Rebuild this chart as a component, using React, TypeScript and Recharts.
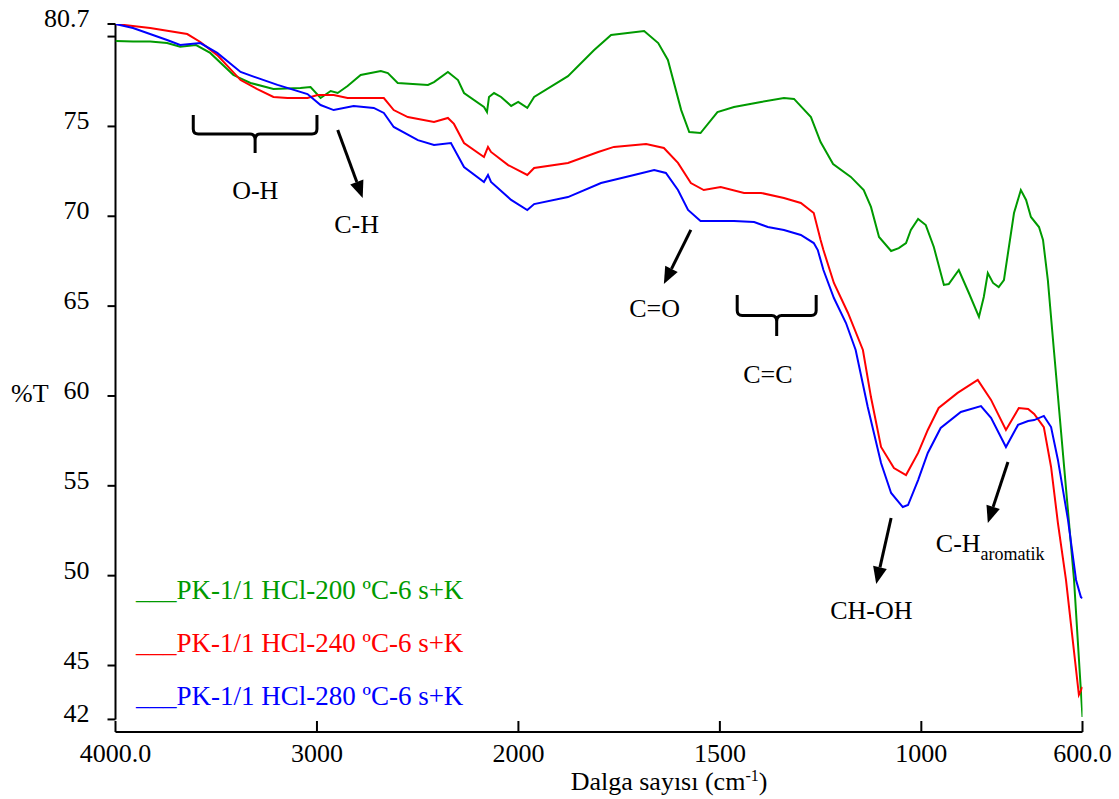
import React from 'react';
import { LineChart, Line, XAxis, YAxis, ReferenceLine, ReferenceDot, Legend } from 'recharts';

const FONT = '"Liberation Serif", "Times New Roman", serif';

// wavenumber (cm-1) and %T
const greenWn = [4000, 3913, 3828, 3744, 3679, 3600, 3530, 3415, 3330, 3216, 3082, 3032, 2982, 2932, 2897, 2848, 2783, 2683, 2648, 2599, 2449, 2419, 2350, 2300, 2270, 2171, 2156, 2146, 2121, 2086, 2036, 2001, 1978, 1961, 1877, 1812, 1770, 1688, 1653, 1629, 1596, 1576, 1548, 1506, 1465, 1398, 1341, 1316, 1274, 1250, 1219, 1175, 1143, 1125, 1105, 1075, 1056, 1038, 1026, 1008, 989, 969, 944, 932, 907, 882, 857, 845, 835, 822, 808, 795, 770, 753, 740, 728, 708, 698, 686, 671, 621, 600];
const greenT = [79.75, 79.72, 79.72, 79.64, 79.44, 79.53, 79.09, 77.86, 77.42, 77.08, 77.14, 77.19, 76.58, 76.97, 76.86, 77.25, 77.86, 78.08, 77.97, 77.42, 77.31, 77.47, 78.03, 77.58, 76.86, 76.08, 75.8, 76.64, 76.86, 76.64, 76.14, 76.36, 76.03, 76.64, 77.8, 79.25, 80.09, 80.31, 79.64, 78.7, 75.91, 74.69, 74.63, 75.8, 76.08, 76.36, 76.58, 76.53, 75.52, 74.13, 72.91, 72.19, 71.46, 70.52, 68.85, 68.07, 68.23, 68.51, 69.24, 69.85, 69.51, 68.29, 66.18, 66.23, 67.01, 65.73, 64.4, 65.51, 66.84, 66.29, 66.06, 66.45, 70.18, 71.46, 70.91, 69.96, 69.4, 68.68, 66.45, 62.56, 49.76, 42.14];

const redWn = [4000, 3828, 3644, 3579, 3495, 3379, 3296, 3216, 3146, 3047, 2997, 2917, 2848, 2668, 2619, 2549, 2419, 2350, 2320, 2270, 2171, 2151, 2136, 2051, 1978, 1961, 1877, 1802, 1763, 1683, 1639, 1604, 1572, 1540, 1498, 1440, 1398, 1341, 1299, 1267, 1250, 1243, 1217, 1182, 1145, 1125, 1100, 1068, 1038, 1008, 984, 957, 910, 860, 827, 790, 758, 735, 720, 696, 678, 661, 641, 609, 600];
const redT = [80.7, 80.48, 80.14, 79.7, 78.97, 77.58, 77.08, 76.64, 76.58, 76.58, 76.75, 76.75, 76.58, 76.58, 75.91, 75.52, 75.25, 75.47, 75.14, 74.08, 73.3, 73.86, 73.58, 72.85, 72.3, 72.69, 72.97, 73.58, 73.86, 74.02, 73.8, 72.97, 71.85, 71.46, 71.63, 71.3, 71.3, 71.02, 70.74, 70.18, 68.68, 68.12, 66.29, 64.62, 62.56, 59.94, 57.16, 55.99, 55.6, 56.83, 58.11, 59.33, 60.17, 60.89, 59.78, 58.11, 59.33, 59.28, 59.0, 58.27, 56.05, 52.93, 49.76, 43.37, 43.81];

const blueWn = [4000, 3913, 3744, 3679, 3579, 3495, 3379, 3296, 3196, 3047, 2982, 2917, 2818, 2718, 2668, 2619, 2499, 2419, 2335, 2270, 2171, 2151, 2136, 2036, 1978, 1961, 1877, 1795, 1713, 1663, 1634, 1604, 1579, 1548, 1515, 1465, 1415, 1381, 1341, 1299, 1267, 1257, 1243, 1217, 1187, 1163, 1133, 1100, 1075, 1046, 1033, 1008, 984, 952, 902, 852, 827, 790, 760, 735, 720, 696, 678, 661, 636, 616, 604, 600];
const blueT = [80.7, 80.48, 79.81, 79.53, 79.64, 79.09, 78.03, 77.7, 77.31, 76.8, 76.19, 75.91, 76.14, 76.03, 75.75, 74.97, 74.24, 73.97, 74.08, 72.74, 71.91, 72.3, 71.91, 70.91, 70.35, 70.68, 71.07, 71.85, 72.3, 72.58, 72.41, 71.46, 70.35, 69.74, 69.74, 69.74, 69.68, 69.4, 69.24, 68.96, 68.51, 68.12, 67.01, 65.45, 64.06, 62.56, 59.39, 56.27, 54.6, 53.82, 53.93, 55.32, 56.83, 58.22, 59.11, 59.44, 58.78, 57.16, 58.39, 58.61, 58.66, 58.89, 58.27, 56.44, 53.1, 49.76, 48.81, 48.75];

const seriesNames = ['PK-1/1 HCl-200 ºC-6 s+K', 'PK-1/1 HCl-240 ºC-6 s+K', 'PK-1/1 HCl-280 ºC-6 s+K'];
const seriesColors = ['#009a00', '#ff0000', '#0000ff'];

const xTickWn = [4000, 3000, 2000, 1500, 1000, 600];
const xTickLabels = ['4000.0', '3000', '2000', '1500', '1000', '600.0'];
const yTicks = [42, 45, 50, 55, 60, 65, 70, 75, 80, 80.7];
const yTickLabels = ['42', '45', '50', '55', '60', '65', '70', '75', '', '80.7'];

// band annotations: arrows [fromWn, fromT, toWn, toT]
const arrows = [
  [2897, 74.8, 2773, 71.02],
  [1572, 69.24, 1639, 66.23],
  [1075, 53.21, 1112, 49.54],
  [785, 56.33, 835, 52.93],
];
// braces [leftWn, topT, rightWn, stemT]
const braces = [
  [3614, 75.64, 3000, 73.52],
  [1457, 65.62, 1261, 63.34],
];
const bandLabels = ['O-H', 'C-H', 'C=O', 'C=C', 'CH-OH'];
const bandLabelWn = [3306, 2803, 1662, 1381, 1124];
const bandLabelT = [70.96, 69.07, 64.4, 60.72, 47.59];

// instrument scale halves above 2000 cm-1
const toPos = (wn: number) => (wn <= 2000 ? wn : 2000 + (wn - 2000) / 2);

const makeData = (wn: number[], t: number[]) => wn.map((w, i) => ({ pos: toPos(w), t: t[i] }));
const seriesData = [makeData(greenWn, greenT), makeData(redWn, redT), makeData(blueWn, blueT)];

const XTick = (props: any) => {
  const { x, y, payload } = props;
  const i = xTickWn.findIndex((w) => toPos(w) === payload.value);
  return (
    <g>
      <line x1={x} x2={x} y1={y} y2={y - 11} stroke="#000" strokeWidth={2} />
      <text x={x} y={y + 30} textAnchor="middle" fontSize={26} fontFamily={FONT} fill="#000">
        {xTickLabels[i]}
      </text>
    </g>
  );
};

const YTick = (props: any) => {
  const { x, y, payload } = props;
  const i = yTicks.indexOf(payload.value);
  return (
    <g>
      <line x1={x - 8} x2={x} y1={y} y2={y} stroke="#000" strokeWidth={2} />
      <text x={x - 26} y={y + 3} textAnchor="end" fontSize={26} fontFamily={FONT} fill="#000">
        {yTickLabels[i]}
      </text>
    </g>
  );
};

const Arrow = (p: any) => {
  const { x1, y1, x2, y2 } = p;
  const dx = x2 - x1;
  const dy = y2 - y1;
  const len = Math.hypot(dx, dy);
  const ux = dx / len;
  const uy = dy / len;
  const bx = x2 - ux * 17;
  const by = y2 - uy * 17;
  return (
    <g>
      <line x1={x1} y1={y1} x2={bx} y2={by} stroke="#000" strokeWidth={3} />
      <polygon points={`${x2},${y2} ${bx - uy * 7},${by + ux * 7} ${bx + uy * 7},${by - ux * 7}`} fill="#000" />
    </g>
  );
};

const Brace = (p: any) => {
  const { x1, y1, x2, y2 } = p;
  const l = Math.min(x1, x2);
  const r = Math.max(x1, x2);
  const c = (l + r) / 2;
  const top = Math.min(y1, y2);
  const bot = Math.max(y1, y2);
  const m = (top + bot) / 2;
  const d = `M${l},${top} L${l},${m - 5} Q${l},${m} ${l + 5},${m} L${c - 5},${m} Q${c},${m} ${c},${m + 6} L${c},${bot} M${c},${m + 6} Q${c},${m} ${c + 5},${m} L${r - 5},${m} Q${r},${m} ${r},${m - 5} L${r},${top}`;
  return <path d={d} fill="none" stroke="#000" strokeWidth={3} />;
};

const LegendBox = () => (
  <div>
    {seriesNames.map((n, i) => (
      <div
        key={n}
        style={{ color: seriesColors[i], fontSize: 27, lineHeight: '53px', fontFamily: FONT, whiteSpace: 'nowrap' }}
      >
        ___{n}
      </div>
    ))}
  </div>
);

export default function App() {
  return (
    <div style={{ position: 'absolute', left: 0, top: 0, width: 1119, height: 799, background: '#fff' }}>
      <LineChart width={1119} height={799} margin={{ top: 24, right: 36.5, bottom: 0, left: 15.5 }}>
        <XAxis
          type="number"
          dataKey="pos"
          domain={[600, 3000]}
          reversed
          ticks={xTickWn.map(toPos)}
          interval={0}
          height={67}
          tickSize={0}
          tickMargin={0}
          tickLine={false}
          axisLine={{ stroke: '#000', strokeWidth: 2 }}
          tick={<XTick />}
          allowDataOverflow
          label={{
            content: (lp: any) => {
              const vb = lp.viewBox;
              return (
                <text x={vb.x + vb.width * 0.5724} y={vb.y + 58} textAnchor="middle" fontSize={26} fontFamily={FONT} fill="#000">
                  Dalga sayısı (cm
                  <tspan dy={-9} fontSize={16}>-1</tspan>
                  <tspan dy={9}>)</tspan>
                </text>
              );
            },
          }}
        />
        <YAxis
          type="number"
          dataKey="t"
          domain={[41.3, 80.7]}
          ticks={yTicks}
          interval={0}
          width={100}
          tickSize={0}
          tickMargin={0}
          tickLine={false}
          axisLine={false}
          tick={<YTick />}
          allowDataOverflow
          label={{
            content: (lp: any) => {
              const vb = lp.viewBox;
              return (
                <text x={vb.x - 4.5} y={vb.y + vb.height * 0.534} fontSize={26} fontFamily={FONT} fill="#000">
                  %T
                </text>
              );
            },
          }}
        />
        <ReferenceLine
          segment={[{ x: toPos(4000), y: 42 }, { x: toPos(4000), y: 80.7 }]}
          stroke="#000"
          strokeWidth={2}
          ifOverflow="visible"
        />
        {seriesData.map((d, i) => (
          <Line
            key={seriesNames[i]}
            data={d}
            dataKey="t"
            name={seriesNames[i]}
            type="linear"
            stroke={seriesColors[i]}
            strokeWidth={2}
            dot={false}
            activeDot={false}
            isAnimationActive={false}
          />
        ))}
        {arrows.map((a, i) => (
          <ReferenceLine
            key={`a${i}`}
            segment={[{ x: toPos(a[0]), y: a[1] }, { x: toPos(a[2]), y: a[3] }]}
            ifOverflow="visible"
            shape={<Arrow />}
          />
        ))}
        {braces.map((b, i) => (
          <ReferenceLine
            key={`b${i}`}
            segment={[{ x: toPos(b[0]), y: b[1] }, { x: toPos(b[2]), y: b[3] }]}
            ifOverflow="visible"
            shape={<Brace />}
          />
        ))}
        {bandLabels.map((s, i) => (
          <ReferenceDot
            key={s}
            x={toPos(bandLabelWn[i])}
            y={bandLabelT[i]}
            r={0}
            ifOverflow="visible"
            shape={(p: any) => (
              <text x={p.cx} y={p.cy} textAnchor="middle" fontSize={26} fontFamily={FONT} fill="#000">
                {s}
              </text>
            )}
          />
        ))}
        <ReferenceDot
          x={toPos(964)}
          y={51.32}
          r={0}
          ifOverflow="visible"
          shape={(p: any) => (
            <text x={p.cx} y={p.cy} fontSize={26} fontFamily={FONT} fill="#000">
              C-H
              <tspan dy={8} fontSize={18}>aromatik</tspan>
            </text>
          )}
        />
        <Legend
          layout="vertical"
          align="center"
          verticalAlign="middle"
          wrapperStyle={{ left: 136, top: 564, width: 'auto', height: 'auto' }}
          content={<LegendBox />}
        />
      </LineChart>
    </div>
  );
}
